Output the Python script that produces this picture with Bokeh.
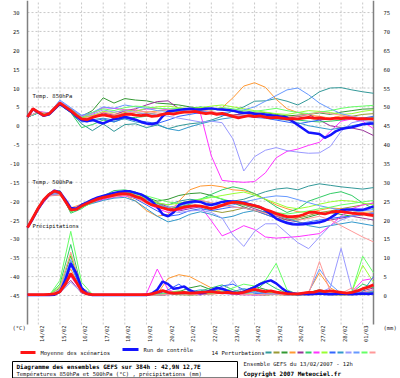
import math
from bokeh.plotting import figure
from bokeh.models import Range1d
from bokeh.core.properties import value
from bokeh.embed import file_html
from bokeh.resources import INLINE

# ---------------- data ----------------
hours6 = list(range(0, 385, 6))
hours12 = list(range(0, 385, 12))
date_labels = ["14/02", "15/02", "16/02", "17/02", "18/02", "19/02", "20/02", "21/02",
               "22/02", "23/02", "24/02", "25/02", "26/02", "27/02", "28/02", "01/03"]
day_grid = [12 + 24 * k for k in range(16)]          # 00h of each day, in forecast hours
temp_ticks = [30, 25, 20, 15, 10, 5, 0, -5, -10, -15, -20, -25, -30, -35, -40, -45]
mm_ticks = [75, 70, 65, 60, 55, 50, 45, 40, 35, 30, 25, 20, 15, 10, 5, 0]

mean_t850 = [2.3, 4.5, 3.6, 2.7, 3.2, 4.6, 6.0, 5.0, 4.0, 2.8,
             1.8, 1.6, 2.2, 2.6, 2.9, 2.6, 2.3, 2.6, 3.0, 3.1,
             2.8, 2.7, 2.9, 2.5, 2.6, 3.0, 3.3, 3.1, 3.4, 3.6,
             3.6, 3.8, 3.5, 3.2, 3.4, 3.0, 3.3, 2.9, 2.5, 2.1,
             2.4, 2.7, 2.4, 2.6, 2.3, 2.1, 2.2, 2.0, 1.8, 1.9,
             1.8, 2.0, 2.2, 2.0, 2.1, 1.9, 1.8, 2.0, 1.9, 2.1,
             2.0, 1.8, 1.9, 1.8, 1.8]
ctrl_t850 = [2.3, 4.4, 3.5, 2.6, 3.0, 4.4, 5.8, 4.8, 3.8, 2.6,
             1.5, 1.2, 1.6, 1.0, 0.6, 1.2, 1.8, 2.0, 2.4, 2.0,
             1.6, 1.0, 0.6, 0.4, 0.8, 2.5, 3.8, 4.0, 4.2, 4.4,
             4.5, 4.3, 4.3, 4.5, 4.6, 4.4, 4.3, 4.2, 4.0, 3.6,
             3.4, 3.5, 3.2, 3.1, 3.0, 2.8, 2.6, 2.4, 2.2, 1.2,
             0.2, -0.8, -1.8, -2.0, -2.2, -3.2, -2.5, -1.5, -0.9, -0.6,
             -0.4, 0.0, 0.4, 0.5, 0.6]
mean_t500 = [-27.0, -24.4, -21.8, -19.6, -18.2, -17.3, -17.8, -20.0, -22.3, -22.2,
             -21.3, -20.6, -20.0, -19.4, -19.0, -18.7, -18.4, -18.1, -18.0, -18.2,
             -18.8, -19.2, -20.2, -21.0, -21.3, -21.8, -22.2, -22.4, -22.0, -21.6,
             -21.4, -21.2, -21.3, -21.6, -22.0, -21.6, -21.1, -20.6, -20.3, -20.3,
             -20.6, -20.9, -21.2, -21.6, -22.2, -22.7, -23.3, -23.7, -24.1, -24.1,
             -24.0, -23.6, -23.0, -22.9, -23.2, -23.4, -23.0, -22.7, -22.8, -23.0,
             -23.2, -23.3, -23.4, -23.6, -23.8]
ctrl_t500 = [-27.0, -24.6, -22.0, -19.8, -18.3, -17.2, -17.6, -19.6, -21.8, -22.0,
             -21.0, -20.3, -19.6, -19.0, -18.6, -18.2, -17.8, -17.6, -17.4, -17.4,
             -17.8, -18.2, -19.0, -20.0, -21.5, -23.5, -24.0, -23.0, -21.0, -20.5,
             -20.2, -20.0, -20.2, -20.8, -21.0, -20.6, -20.2, -20.0, -20.1, -20.2,
             -20.4, -20.8, -21.2, -21.6, -22.4, -23.5, -24.6, -25.3, -25.8, -26.1,
             -26.2, -26.1, -25.9, -25.8, -25.6, -25.2, -24.4, -23.5, -22.4, -22.2,
             -22.2, -22.3, -22.3, -21.9, -21.4]
mean_prec = [0.2, 0.2, 0.2, 0.2, 0.3, 0.4, 1.0, 3.0, 5.8, 3.6,
             1.2, 0.4, 0.2, 0.2, 0.2, 0.2, 0.2, 0.2, 0.2, 0.2,
             0.2, 0.2, 0.2, 0.4, 0.8, 1.3, 0.8, 0.6, 0.7, 0.8,
             0.6, 0.7, 0.8, 0.9, 1.0, 0.8, 0.7, 0.8, 0.6, 0.6,
             0.8, 1.2, 1.6, 1.3, 1.0, 1.2, 0.9, 0.7, 0.5, 0.4,
             0.4, 0.6, 0.8, 0.9, 1.3, 1.0, 1.2, 1.0, 0.8, 0.6,
             0.8, 1.2, 1.8, 2.2, 2.8]
ctrl_prec = [0.1, 0.1, 0.1, 0.1, 0.1, 0.2, 1.0, 4.0, 8.5, 6.0,
             2.0, 0.5, 0.1, 0.1, 0.1, 0.1, 0.1, 0.1, 0.1, 0.1,
             0.1, 0.1, 0.1, 0.5, 1.5, 3.7, 3.0, 1.8, 2.0, 2.4,
             1.4, 0.8, 0.6, 0.8, 1.4, 2.0, 1.8, 1.2, 0.8, 0.6,
             1.0, 1.6, 2.2, 3.0, 3.6, 4.0, 3.2, 2.0, 1.0, 0.6,
             0.4, 0.4, 0.3, 0.4, 0.5, 0.4, 0.3, 0.4, 0.5, 0.4,
             0.3, 0.4, 0.5, 0.4, 0.5]

pert_colors = ["#339999", "#999933", "#339933", "#ff9933", "#993399", "#33cc66", "#ff33ff",
               "#99ff33", "#3366ff", "#3399cc", "#9999ff", "#6699ff", "#66ff66", "#ff9999"]

pert_t850 = [
    [2.3,3.5,3.0,5.5,3.5,0.5,-1.3,0.5,-1.5,0.3, 0.5,-0.5,0.2,-0.8,0.0,0.5,0.8,1.5,2.5,4.0, 5.0,6.5,6.6,7.2,6.5,5.5,7.0,9.0,10.0,10.1, 9.5,9.0,8.6],
    [2.3,3.7,3.2,6.2,4.2,2.0,2.5,3.0,2.5,3.5, 3.0,3.4,3.0,3.5,3.8,4.0,3.6,3.2,3.0,2.8, 3.2,3.5,3.0,2.6,2.2,2.5,2.0,1.6,1.8,2.2, 2.5,3.0,3.2],
    [2.3,3.6,3.4,6.4,4.5,2.5,4.0,7.4,6.0,7.2, 6.8,6.6,6.0,5.8,5.5,5.0,4.6,4.2,4.5,4.0, 3.6,3.2,3.5,3.0,2.6,2.8,3.0,3.4,3.0,3.6, 4.0,4.4,4.5],
    [2.3,3.6,3.1,6.0,4.0,2.2,2.8,3.5,3.0,3.8, 4.2,3.6,3.9,4.2,4.0,4.5,4.5,4.2,4.8,7.4, 10.5,11.4,10.2,7.0,4.5,3.5,2.8,2.5,2.0,2.6, 2.2,1.8,1.5],
    [2.3,3.5,3.3,5.8,4.0,1.5,2.2,3.4,2.8,4.0, 4.5,5.5,6.4,6.6,4.5,4.0,3.8,3.5,3.0,2.8, 3.2,3.0,2.4,2.2,2.0,2.5,3.0,1.5,0.0,-0.5, -0.6,-1.2,-2.6],
    [2.3,3.4,2.8,5.6,3.5,-0.5,0.3,1.5,1.0,2.0, 2.2,2.5,2.8,3.0,3.8,4.5,5.0,4.5,4.2,3.8, 3.5,3.0,2.5,2.2,1.8,1.5,1.2,1.0,1.2,1.5, 2.0,1.8,2.2],
    [2.3,3.8,3.4,6.4,4.6,2.6,3.2,4.8,4.6,4.3, 4.0,4.4,4.6,4.2,4.0,3.6,3.2,-8.0,-14.5,-14.8, -15.0,-14.8,-12.5,-8.5,-6.8,-6.2,-5.2,-4.4,-1.5,1.2, 1.8,1.2,-0.8],
    [2.3,3.6,3.0,6.2,4.2,2.0,2.6,3.8,3.5,4.2, 3.8,4.6,5.0,5.2,4.8,4.5,4.8,5.2,5.5,5.0, 4.5,4.0,3.6,3.2,3.0,3.5,4.0,3.8,3.5,3.0, 3.2,3.8,4.2],
    [2.3,3.4,2.9,5.8,3.6,1.0,1.2,1.8,1.0,2.0, 1.5,1.0,0.6,1.5,2.5,3.0,3.5,3.2,2.8,2.5, 2.6,2.2,2.0,1.5,1.0,0.5,1.0,1.5,1.8,2.0, 2.4,2.0,2.5],
    [2.3,3.4,3.0,5.6,3.8,1.2,1.6,2.0,1.5,1.8, 1.0,0.6,0.4,-0.8,-1.3,-0.3,0.5,1.2,1.8,2.2, 2.5,2.8,2.2,1.8,1.5,0.8,0.0,-0.5,-1.0,-0.6, 0.0,0.5,1.0],
    [2.3,3.7,3.2,6.5,4.6,2.4,3.0,4.2,3.6,4.0, 3.5,3.2,3.0,2.5,2.0,1.5,1.0,1.2,0.8,-3.5, -12.0,-8.2,-6.5,-5.8,-6.6,-7.0,-7.3,-7.2,-5.5,-1.5, 0.8,1.4,1.0],
    [2.3,3.6,3.3,6.8,4.8,2.8,3.5,5.0,4.6,5.5, 5.0,4.6,4.0,3.8,4.2,4.0,3.8,3.6,3.4,3.8, 4.2,5.0,6.5,8.0,9.5,10.0,8.2,6.0,4.5,3.2, 2.5,2.0,1.8],
    [2.3,3.5,3.1,6.0,4.4,2.2,3.5,4.5,4.0,4.8, 5.2,5.0,4.6,4.5,4.6,4.2,4.0,4.4,4.8,4.5, 4.0,3.8,4.2,4.6,4.0,3.5,3.2,3.6,4.0,4.6, 5.0,5.2,5.4],
    [2.3,3.7,3.2,6.3,4.0,1.8,2.5,3.6,3.0,3.2, 3.6,3.8,3.4,3.2,3.6,4.0,4.2,3.8,3.2,2.8, 2.4,2.6,2.8,2.4,2.2,2.6,3.0,3.6,3.2,2.8, 2.4,2.0,1.6],
]

pert_t500 = [
    [-27.0,-21.5,-18.0,-17.5,-22.0,-21.0,-19.5,-18.5,-18.0,-17.6, -18.5,-19.5,-20.5,-21.0,-20.0,-19.5,-19.8,-20.5,-21.0,-20.0, -19.5,-18.5,-17.5,-16.8,-16.5,-17.0,-16.0,-15.4,-15.8,-16.2, -16.5,-16.8,-16.4],
    [-27.0,-22.0,-18.4,-18.0,-22.5,-21.5,-20.2,-19.2,-18.8,-18.4, -19.0,-20.0,-21.0,-22.0,-21.5,-21.0,-21.5,-22.5,-23.0,-22.5, -21.8,-22.5,-23.5,-24.5,-25.0,-24.5,-23.8,-23.0,-22.6,-22.0, -21.5,-21.0,-20.5],
    [-27.0,-21.6,-18.0,-17.6,-22.6,-21.0,-19.6,-18.6,-18.2,-17.5, -18.0,-19.0,-20.0,-19.5,-18.5,-18.0,-17.8,-18.5,-19.5,-20.5, -21.5,-22.5,-23.0,-23.8,-24.6,-25.0,-24.2,-23.4,-23.0,-23.5, -24.0,-23.6,-23.0],
    [-27.0,-21.8,-18.6,-18.4,-21.8,-20.8,-19.8,-19.0,-18.5,-18.4, -20.0,-22.5,-24.0,-23.5,-20.0,-17.0,-16.0,-15.8,-16.2,-17.0, -17.2,-18.0,-19.5,-21.0,-22.0,-22.8,-23.0,-22.4,-21.8,-22.0, -22.5,-23.0,-22.8],
    [-27.0,-22.0,-18.2,-18.0,-22.8,-21.6,-20.4,-19.4,-18.6,-18.0, -18.6,-19.6,-20.4,-21.5,-22.6,-22.0,-21.5,-22.0,-21.0,-20.5, -21.0,-22.0,-23.0,-24.0,-25.0,-25.5,-26.0,-25.5,-25.0,-24.5, -24.0,-24.5,-25.0],
    [-27.0,-21.4,-17.8,-17.2,-23.2,-22.0,-20.0,-18.6,-17.2,-17.0, -17.6,-19.0,-20.6,-21.8,-21.6,-20.8,-19.5,-18.2,-17.0,-16.2, -16.8,-18.0,-19.6,-21.5,-23.0,-22.0,-20.0,-19.0,-18.0,-17.5, -18.5,-20.5,-22.0],
    [-27.0,-22.2,-18.6,-18.2,-22.0,-21.4,-20.4,-19.6,-19.0,-18.6, -19.2,-20.4,-22.0,-23.0,-22.4,-21.6,-21.4,-25.2,-29.2,-28.0, -26.5,-27.5,-29.5,-29.8,-29.6,-29.4,-29.0,-28.6,-26.5,-24.0, -22.0,-21.0,-20.5],
    [-27.0,-21.6,-18.0,-17.8,-22.4,-21.2,-19.8,-18.8,-18.0,-17.6, -18.2,-19.4,-20.4,-21.0,-20.5,-20.0,-19.6,-19.0,-18.5,-18.0, -17.6,-18.4,-19.5,-20.5,-21.6,-22.0,-21.5,-20.8,-20.2,-19.8, -20.0,-20.5,-21.0],
    [-27.0,-21.9,-18.3,-17.9,-22.5,-21.6,-20.2,-19.0,-18.5,-18.2, -19.4,-21.0,-22.6,-24.0,-23.6,-22.5,-22.0,-22.5,-22.0,-21.5, -21.8,-22.4,-23.5,-24.6,-25.5,-26.0,-25.5,-25.0,-24.6,-24.2, -24.0,-23.5,-23.2],
    [-27.0,-22.0,-18.5,-18.2,-22.2,-21.4,-20.6,-19.8,-19.2,-19.0, -20.0,-22.0,-24.0,-25.5,-24.8,-23.5,-22.8,-23.5,-24.5,-24.0, -23.0,-22.5,-22.8,-23.5,-24.5,-25.5,-26.5,-27.0,-26.5,-26.0, -25.5,-26.0,-26.5],
    [-27.0,-21.7,-18.1,-17.7,-22.3,-21.1,-19.9,-18.9,-18.3,-18.0, -18.9,-20.0,-21.2,-22.5,-23.0,-22.6,-22.4,-23.0,-24.5,-29.0, -32.0,-28.0,-26.0,-26.0,-28.5,-31.0,-32.6,-29.5,-26.5,-25.0, -24.0,-23.5,-23.0],
    [-27.0,-21.8,-18.4,-18.1,-22.1,-21.0,-19.6,-18.6,-18.0,-17.8, -18.4,-19.8,-21.0,-21.6,-21.2,-20.6,-20.2,-20.8,-21.4,-21.0, -20.2,-19.6,-19.0,-18.6,-18.8,-19.6,-20.4,-21.2,-21.8,-22.4, -23.0,-22.6,-22.2],
    [-27.0,-21.5,-17.9,-17.4,-22.9,-21.8,-20.4,-19.0,-18.0,-17.4, -17.8,-18.6,-19.4,-20.2,-20.6,-20.0,-19.4,-18.8,-19.4,-20.2, -21.0,-21.6,-22.4,-23.0,-23.4,-23.0,-22.6,-22.0,-21.6,-21.0, -20.6,-20.2,-19.8],
    [-27.0,-22.1,-18.5,-18.3,-21.9,-21.0,-20.0,-19.2,-18.8,-18.4, -19.2,-20.6,-21.6,-22.0,-21.0,-20.0,-19.8,-20.4,-21.0,-21.6, -21.8,-22.4,-23.2,-23.8,-24.4,-25.0,-24.6,-24.0,-25.0,-26.5, -28.0,-29.5,-30.8],
]

pert_prec = [
    [0,0,0,1.0,9.0,1.2,0,0,0,0, 0,0,0.2,0.8,0.5,0.2,0.4,0.6,1.2,0.6, 0.3,0.2,0.4,1.0,0.5,0.2,0.3,0.6,0.4,0.2, 0.3,0.4,0.8],
    [0,0,0,0.8,6.0,1.0,0,0,0,0, 0,0,0,0.3,0.2,0.1,0.2,0.5,1.8,1.0, 0.4,0.2,0.1,0.3,0.2,0.1,0.2,0.3,0.2,0.1, 0.2,0.4,0.5],
    [0,0,0,2.0,10.5,1.5,0.1,0,0,0, 0,0,0.3,0.6,1.0,2.0,2.6,1.5,0.8,0.5, 1.2,2.4,1.6,0.8,0.3,0.2,0.4,0.8,0.5,0.3, 0.4,0.6,1.0],
    [0,0,0,1.2,7.0,1.2,0,0,0,0, 0,0,0.4,4.5,5.5,5.0,3.5,2.0,1.0,0.3, 0.2,0.3,0.4,0.2,0.1,0.5,1.0,6.0,2.0,0.5, 0.3,0.4,0.6],
    [0,0,0,1.0,4.0,0.6,0,0,0,0, 0,0,0.1,0.2,0.5,0.3,0.2,0.4,0.8,0.4, 0.2,0.3,0.6,0.3,0.2,0.3,0.4,0.8,0.6,0.4, 0.6,1.2,2.0],
    [0,0,0,3.0,13.5,2.0,0.2,0,0,0, 0,0,0.2,0.5,0.8,0.5,1.2,2.0,2.8,1.5, 0.6,1.0,3.5,1.8,0.6,0.4,0.8,1.5,1.0,0.6, 0.8,3.0,2.0],
    [0,0,0,0.8,5.0,1.0,0,0,0,0, 0,0.5,7.0,1.5,0.5,0.4,0.2,1.0,0.6,0.3, 0.2,0.1,0.2,0.4,0.3,0.2,0.3,0.6,0.4,0.3, 1.0,4.0,4.5],
    [0,0,0,2.5,11.0,1.6,0.1,0,0,0, 0,0,0.1,0.4,0.6,0.3,0.5,0.4,0.6,0.8, 0.5,0.3,1.0,0.6,0.3,0.2,0.5,0.8,0.5,0.4, 1.0,8.0,3.5],
    [0,0,0,1.5,8.0,1.4,0,0,0,0, 0,0,0.3,1.5,3.0,1.0,0.6,0.8,2.5,3.0, 1.5,0.6,0.4,0.3,0.2,0.2,0.3,0.5,0.3,0.2, 0.3,0.8,1.5],
    [0,0,0,1.2,5.5,2.0,0.3,0,0,0, 0,0,0.2,0.4,0.6,1.0,1.5,1.2,0.8,1.0, 1.8,1.2,0.6,0.4,0.3,0.2,0.4,0.6,0.5,0.3, 0.6,1.0,5.0],
    [0,0,0,0.6,3.5,0.8,0,0,0,0, 0,0,0.1,0.3,0.8,0.4,0.6,0.6,1.0,4.0, 0.3,0.2,0.4,0.3,0.2,0.3,0.6,0.8,2.0,12.5, 1.5,0.4,0.6],
    [0,0,0,1.5,9.5,1.8,0.1,0,0,0, 0,0,0.2,0.5,0.8,0.6,1.0,0.8,0.5,0.4, 0.6,0.8,0.5,0.3,0.2,0.3,0.8,7.0,3.0,0.5, 0.4,0.6,1.2],
    [0,0,0,4.0,17.0,3.5,0.3,0,0,0, 0,0,0.2,0.8,1.2,0.8,0.6,0.5,1.0,2.0, 3.0,2.5,4.0,8.5,1.5,0.3,0.4,0.6,0.5,0.3, 1.0,10.4,6.0],
    [0,0,0,1.8,11.5,2.0,0.1,0,0,0, 0,0,0.1,0.3,0.5,0.3,0.4,0.3,0.6,0.5, 0.3,0.2,0.3,0.4,0.2,0.3,0.5,9.0,1.0,0.5, 2.0,0.8,1.5],
]

legend_texts = ["Moyenne des scénarios", "Run de contrôle", "14 Perturbations"]
panel_labels = ["Temp. 850hPa", "Temp. 500hPa", "Précipitations"]
unit_texts = ["(°C)", "(mm)"]
title_bold = "Diagramme des ensembles GEFS sur 384h : 42,9N 12,7E"
title_sub = "Températures 850hPa et 500hPa (°C) , précipitations (mm)"
run_text = "Ensemble GEFS du 13/02/2007 - 12h"
copyright_text = "Copyright 2007 Meteociel.fr"

# ---------------- geometry of the page ----------------
FONT = value("DejaVu Sans Mono")
W, H = 400, 378
LEFT, RIGHT, PLOT_H = 27, 27, 324            # plot area: x 27..373, y 0..324 px
H0, H1 = 0, 384                              # forecast hours shown
T_TOP, T_BOT = 33.2, -52.7                   # °C at top / bottom of plot area
hpp = (H1 - H0) / (W - LEFT - RIGHT)         # hours per pixel
cpp = (T_TOP - T_BOT) / PLOT_H               # °C per pixel

def hx(px):       # page pixel column -> hour coordinate
    return H0 + (px - LEFT) * hpp

def ty(py):       # page pixel row -> °C coordinate
    return T_TOP - py * cpp

p = figure(width=W, height=H,
           x_range=Range1d(hx(0), hx(W)), y_range=Range1d(ty(H), ty(0)),
           output_backend="svg", toolbar_location=None, min_border=0,
           x_axis_type=None, y_axis_type=None, outline_line_color=None,
           background_fill_color="white", border_fill_color="white")
p.extra_y_ranges = {"mm": Range1d(ty(H) + 45, ty(0) + 45)}

# grid (dotted), confined to the plot area
p.segment(x0=[H0] * len(temp_ticks), x1=[H1] * len(temp_ticks), y0=temp_ticks, y1=temp_ticks,
          line_color="#c8c8c8", line_dash="2 2", line_width=1)
p.segment(x0=day_grid, x1=day_grid, y0=[T_BOT] * len(day_grid), y1=[T_TOP] * len(day_grid),
          line_color="#c8c8c8", line_dash="2 2", line_width=1)
# left / right axis lines
p.segment(x0=[H0, H1], x1=[H0, H1], y0=[T_BOT, T_BOT], y1=[T_TOP, T_TOP],
          line_color="#808080", line_width=1.5)

# tick labels
p.text(x=[hx(19)] * len(temp_ticks), y=temp_ticks, text=[str(t) for t in temp_ticks],
       text_font=FONT, text_font_size=value("5.5px"), text_align="right",
       text_baseline="middle", text_color="#222222")
p.text(x=[hx(383)] * len(mm_ticks), y=mm_ticks, text=[str(t) for t in mm_ticks],
       y_range_name="mm", text_font=FONT, text_font_size=value("5.5px"), text_align="left",
       text_baseline="middle", text_color="#222222")
p.text(x=[h + 4 for h in day_grid], y=[ty(PLOT_H + 1)] * len(day_grid), text=date_labels,
       angle=math.pi / 2, text_font=FONT, text_font_size=value("5.5px"), text_align="right",
       text_baseline="middle", text_color="#222222")
p.text(x=[hx(12), hx(383)], y=[ty(327), ty(327)], text=unit_texts, text_font=FONT,
       text_font_size=value("5.5px"), text_align="left", text_baseline="middle",
       text_color="#222222")

# ---------------- series ----------------
for col, s in zip(pert_colors, pert_t850):
    p.line(hours12[:len(s)], s, line_color=col, line_width=1)
for col, s in zip(pert_colors, pert_t500):
    p.line(hours12[:len(s)], s, line_color=col, line_width=1)
for col, s in zip(pert_colors, pert_prec):
    p.line(hours12[:len(s)], s, line_color=col, line_width=1, y_range_name="mm")

p.line(hours6, ctrl_t850, line_color="#1414ff", line_width=2.5)
p.line(hours6, ctrl_t500, line_color="#1414ff", line_width=2.5)
p.line(hours6, ctrl_prec, line_color="#1414ff", line_width=2.5, y_range_name="mm")
p.line(hours6, mean_t850, line_color="#ff1414", line_width=2.8)
p.line(hours6, mean_t500, line_color="#ff1414", line_width=2.8)
p.line(hours6, mean_prec, line_color="#ff1414", line_width=2.8, y_range_name="mm")

p.text(x=[5.5] * 3, y=[8.0, -15.0, -26.7], text=panel_labels, text_font=FONT,
       text_font_size=value("5.5px"), text_align="left", text_baseline="middle",
       text_color="#111111")

# ---------------- legend ----------------
n = len(pert_colors)
p.quad(left=[hx(20), hx(122)], right=[hx(35), hx(138)],
       top=[ty(350.5), ty(347.5)], bottom=[ty(353.5), ty(350.5)],
       fill_color=["#ff1414", "#1414ff"], line_color=None)
p.quad(left=[hx(265 + 8 * i) for i in range(n)], right=[hx(271 + 8 * i) for i in range(n)],
       top=[ty(351)] * n, bottom=[ty(353)] * n, fill_color=pert_colors, line_color=None)
p.text(x=[hx(40), hx(143), hx(211)], y=[ty(352), ty(349), ty(352)], text=legend_texts,
       text_font=FONT, text_font_size=value("5.5px"), text_align="left",
       text_baseline="middle", text_color="#111111")

# ---------------- caption ----------------
p.quad(left=[hx(12)], right=[hx(237)], top=[ty(361)], bottom=[ty(377.5)],
       fill_color=None, line_color="#000000", line_width=1)
p.text(x=[hx(16), hx(243)], y=[ty(366), ty(373)], text=[title_bold, copyright_text],
       text_font=FONT, text_font_size=value("6px"), text_font_style="bold",
       text_align="left", text_baseline="middle", text_color="#000000")
p.text(x=[hx(16), hx(243)], y=[ty(373), ty(363)], text=[title_sub, run_text],
       text_font=FONT, text_font_size=value("5.5px"), text_align="left",
       text_baseline="middle", text_color="#111111")

open("out.html", "w").write(file_html(p, INLINE))
